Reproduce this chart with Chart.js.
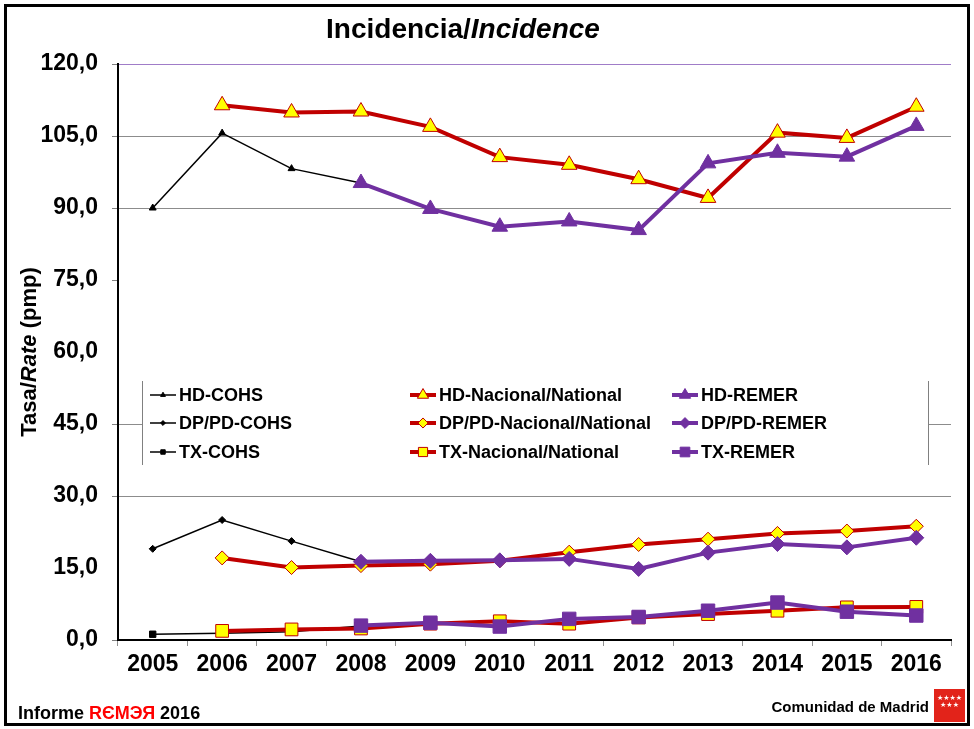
<!DOCTYPE html>
<html>
<head>
<meta charset="utf-8">
<script src="https://cdn.jsdelivr.net/npm/chart.js@4/dist/chart.umd.min.js"></script>
<style>
html,body{margin:0;padding:0;background:#fff;}
canvas{display:block;}
</style>
</head>
<body>
<canvas id="c" width="974" height="729"></canvas>
<script>
// ---- data ----
const years = ['2005','2006','2007','2008','2009','2010','2011','2012','2013','2014','2015','2016'];
const yTickLabels = ['0,0','15,0','30,0','45,0','60,0','75,0','90,0','105,0','120,0'];
const seriesNames = ['HD-COHS','DP/PD-COHS','TX-COHS','HD-Nacional/National','DP/PD-Nacional/National','TX-Nacional/National','HD-REMER','DP/PD-REMER','TX-REMER'];

const hdCOHS   = [90.0, 105.6, 98.2, 95.2, null, null, null, null, null, null, null, null];
const dpCOHS   = [19.0, 25.0, 20.6, 16.3, null, null, null, null, null, null, null, null];
const txCOHS   = [1.2, 1.4, 1.7, 2.9, null, null, null, null, null, null, null, null];

const hdNac    = [null, 111.4, 109.9, 110.1, 106.9, 100.6, 99.0, 96.0, 92.1, 105.7, 104.6, 111.1];
const dpNac    = [null, 17.1, 15.1, 15.5, 15.8, 16.5, 18.3, 19.9, 21.0, 22.2, 22.7, 23.7];
const txNac    = [null, 1.9, 2.2, 2.4, 3.4, 3.9, 3.4, 4.7, 5.4, 6.1, 6.8, 6.9];

const hdREMER  = [null, null, null, 95.2, 89.8, 86.1, 87.2, 85.4, 99.3, 101.5, 100.7, 107.1];
const dpREMER  = [null, null, null, 16.3, 16.5, 16.6, 16.9, 14.8, 18.2, 20.0, 19.3, 21.3];
const txREMER  = [null, null, null, 3.0, 3.6, 2.8, 4.4, 4.8, 6.1, 7.8, 5.9, 5.1];

// ---- styles ----
const BLACK = '#000000', RED = '#c00000', YELLOW = '#ffff00', PURPLE = '#7030a0';
const FONT = '"Liberation Sans", Arial, Helvetica, sans-serif';

function cohs(label, data, style, r) {
  return {label, data, borderColor: BLACK, borderWidth: 1.5, pointStyle: style, pointRadius: r,
    pointBackgroundColor: BLACK, pointBorderColor: BLACK, pointBorderWidth: 1, order: 3, tension: 0,
    legendR: r * 0.7};
}
function nac(label, data, style, r) {
  return {label, data, borderColor: RED, borderWidth: 4, pointStyle: style, pointRadius: r,
    pointBackgroundColor: YELLOW, pointBorderColor: RED, pointBorderWidth: 1, order: 2, tension: 0,
    legendR: r * 0.72};
}
function remer(label, data, style, r) {
  return {label, data, borderColor: PURPLE, borderWidth: 4, pointStyle: style, pointRadius: r,
    pointBackgroundColor: PURPLE, pointBorderColor: PURPLE, pointBorderWidth: 1, order: 1, tension: 0,
    legendR: r * 0.72};
}

const datasets = [
  cohs(seriesNames[0], hdCOHS, 'triangle', 4),
  cohs(seriesNames[1], dpCOHS, 'rectRot', 3.5),
  cohs(seriesNames[2], txCOHS, 'rect', 4.5),
  nac(seriesNames[3], hdNac, 'triangle', 9),
  nac(seriesNames[4], dpNac, 'rectRot', 7),
  nac(seriesNames[5], txNac, 'rect', 9),
  remer(seriesNames[6], hdREMER, 'triangle', 9),
  remer(seriesNames[7], dpREMER, 'rectRot', 7.5),
  remer(seriesNames[8], txREMER, 'rect', 9.5)
];

// ---- plugins ----
const bgPlugin = {
  id: 'bg',
  beforeDraw(chart) {
    const ctx = chart.ctx;
    ctx.save();
    ctx.fillStyle = '#fff';
    ctx.fillRect(0, 0, chart.width, chart.height);
    ctx.restore();
  }
};

const legendPlugin = {
  id: 'boxLegend',
  afterDatasetsDraw(chart) {
    const ctx = chart.ctx;
    const left = 142, right = 928, top = 381, bottom = 465;
    ctx.save();
    ctx.fillStyle = '#fff';
    ctx.fillRect(left, top, right - left, bottom - top);
    ctx.strokeStyle = '#808080';
    ctx.lineWidth = 1;
    ctx.beginPath();
    ctx.moveTo(left + 0.5, top); ctx.lineTo(left + 0.5, bottom);
    ctx.moveTo(right + 0.5, top); ctx.lineTo(right + 0.5, bottom);
    ctx.stroke();
    const colX = [150, 410, 672];
    const rowY = [395, 423, 452];
    chart.data.datasets.forEach((ds, i) => {
      const col = Math.floor(i / 3), row = i % 3;
      const x = colX[col], y = rowY[row];
      ctx.strokeStyle = ds.borderColor;
      ctx.lineWidth = ds.borderWidth;
      ctx.beginPath();
      ctx.moveTo(x, y); ctx.lineTo(x + 26, y);
      ctx.stroke();
      ctx.fillStyle = ds.pointBackgroundColor;
      ctx.strokeStyle = ds.pointBorderColor;
      ctx.lineWidth = ds.pointBorderWidth;
      Chart.helpers.drawPoint(ctx, {pointStyle: ds.pointStyle, radius: ds.legendR, rotation: 0, borderWidth: 1}, x + 13, y);
      ctx.fillStyle = '#000';
      ctx.font = 'bold 18px ' + FONT;
      ctx.textBaseline = 'middle';
      ctx.textAlign = 'left';
      ctx.fillText(ds.label, x + 29, y + 1);
    });
    ctx.restore();
  }
};

function drawMixed(ctx, parts, x, y) {
  let cx = x;
  parts.forEach(p => {
    ctx.font = p.font;
    ctx.fillStyle = p.color || '#000';
    ctx.fillText(p.text, cx, y);
    cx += ctx.measureText(p.text).width;
  });
}
function mixedWidth(ctx, parts) {
  let w = 0;
  parts.forEach(p => { ctx.font = p.font; w += ctx.measureText(p.text).width; });
  return w;
}

const textPlugin = {
  id: 'texts',
  afterDraw(chart) {
    const ctx = chart.ctx;
    ctx.save();
    ctx.textBaseline = 'alphabetic';
    ctx.textAlign = 'left';
    // title
    const tParts = [
      {text: 'Incidencia/', font: 'bold 28px ' + FONT},
      {text: 'Incidence', font: 'italic bold 28px ' + FONT}
    ];
    const tw = mixedWidth(ctx, tParts);
    drawMixed(ctx, tParts, 463 - tw / 2, 38);

    // y-axis title
    const yParts = [
      {text: 'Tasa/', font: 'bold 22px ' + FONT},
      {text: 'Rate', font: 'italic bold 22px ' + FONT},
      {text: ' (pmp)', font: 'bold 22px ' + FONT}
    ];
    const yw = mixedWidth(ctx, yParts);
    ctx.save();
    ctx.translate(36, 352);
    ctx.rotate(-Math.PI / 2);
    drawMixed(ctx, yParts, -yw / 2, 0);
    ctx.restore();

    // footer left
    drawMixed(ctx, [
      {text: 'Informe ', font: 'bold 18px ' + FONT},
      {text: 'RЄMЭЯ', font: 'bold 18px ' + FONT, color: '#ff0000'},
      {text: ' 2016', font: 'bold 18px ' + FONT}
    ], 18, 719);

    // footer right
    ctx.font = 'bold 15px ' + FONT;
    ctx.textAlign = 'right';
    ctx.fillStyle = '#000';
    ctx.fillText('Comunidad de Madrid', 929, 712);
    ctx.fillStyle = '#e2231a';
    ctx.fillRect(934, 689, 31, 33);
    ctx.fillStyle = '#fff';
    ctx.font = '7px "DejaVu Sans", sans-serif';
    ctx.textAlign = 'center';
    ctx.fillText('★★★★', 949.5, 700);
    ctx.fillText('★★★', 949.5, 707);

    // outer frame
    ctx.strokeStyle = '#000';
    ctx.lineWidth = 3;
    ctx.strokeRect(5.5, 5.5, 963, 719);
    ctx.restore();
  }
};

const visibleGrid = [105, 90, 45, 30];
const hiddenTicks = [60, 15];

new Chart(document.getElementById('c'), {
  type: 'line',
  data: {labels: years, datasets},
  options: {
    responsive: false,
    animation: false,
    devicePixelRatio: 1,
    layout: {padding: {top: 64, right: 23, left: 0, bottom: 0}},
    plugins: {legend: {display: false}, title: {display: false}, tooltip: {enabled: false}},
    elements: {line: {fill: false}},
    scales: {
      x: {
        type: 'category',
        offset: true,
        grid: {display: true, drawOnChartArea: false, drawTicks: true, tickLength: 6, tickColor: '#909090', offset: true},
        border: {display: true, color: '#000', width: 2},
        ticks: {color: '#000', font: {family: FONT, size: 23, weight: 'bold'}, padding: 5, maxRotation: 0, autoSkip: false},
        afterFit(scale) { scale.height = 89; }
      },
      y: {
        min: 0, max: 120,
        ticks: {
          stepSize: 15, color: '#000', padding: 14,
          font: {family: FONT, size: 23, weight: 'bold'},
          callback: (v, i) => yTickLabels[i]
        },
        grid: {
          drawTicks: true, tickLength: 6, lineWidth: 1,
          color: (c) => {
            const v = c.tick ? c.tick.value : null;
            if (v === 120) return '#a07cc8';
            if (visibleGrid.includes(v)) return '#8c8c8c';
            return 'rgba(0,0,0,0)';
          },
          tickColor: (c) => {
            const v = c.tick ? c.tick.value : null;
            if (hiddenTicks.includes(v)) return 'rgba(0,0,0,0)';
            return '#808080';
          }
        },
        border: {display: true, color: '#000', width: 2},
        afterFit(scale) { scale.width = 118; }
      }
    }
  },
  plugins: [bgPlugin, legendPlugin, textPlugin]
});
</script>
</body>
</html>
